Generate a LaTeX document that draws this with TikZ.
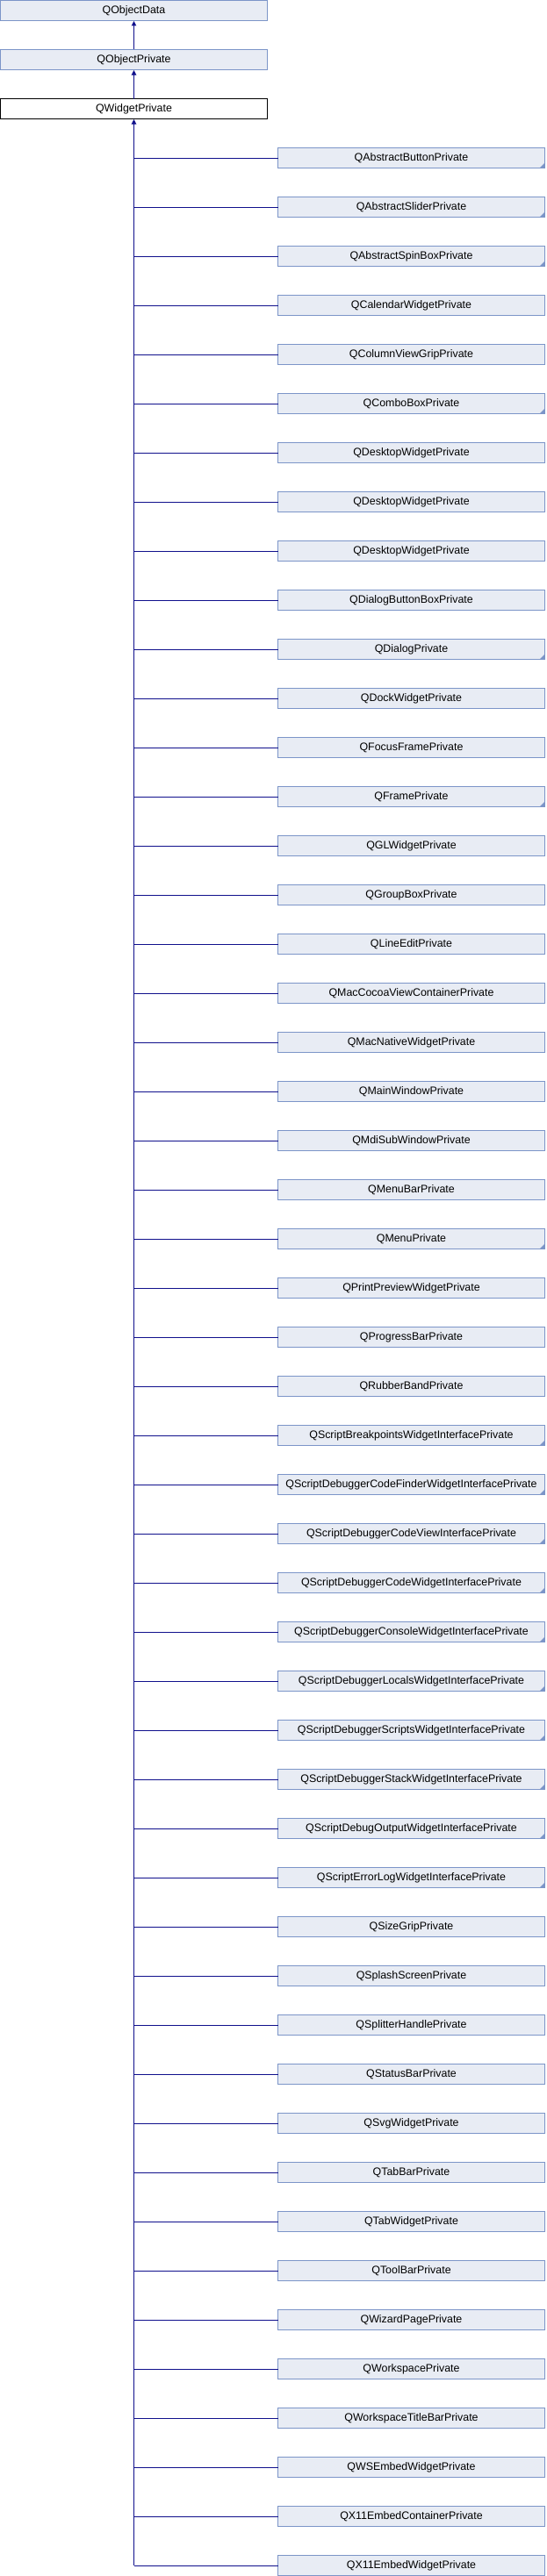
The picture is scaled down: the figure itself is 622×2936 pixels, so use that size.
\documentclass[tikz,border=0pt]{standalone}
\usepackage{fontspec}
\setmainfont{Liberation Sans}
\usetikzlibrary{arrows.meta}
\definecolor{boxfill}{RGB}{232,236,244}
\definecolor{boxline}{RGB}{124,149,200}
\definecolor{connavy}{RGB}{16,16,140}
\tikzset{
  base/.style={rectangle, minimum width=304pt, minimum height=23pt, inner sep=0pt, outer sep=0pt, line width=1pt, font=\fontsize{12.4pt}{14pt}\selectfont},
  parentbox/.style={base, draw=boxline, fill=boxfill},
  focusbox/.style={base, draw=black, fill=white},
  childbox/.style={base, draw=boxline, fill=boxfill},
  conn/.style={draw=connavy, line width=1pt},
  inherit/.style={conn, -{Triangle[width=5.5pt,length=5.5pt]}, shorten >=0.5pt},
  foldmark/.style={fill=boxline}
}
\begin{document}
\begin{tikzpicture}[x=1pt,y=-1pt]
\useasboundingbox (0,0) rectangle (622,2936);
\node[parentbox] (od) at (152.5,12) {QObjectData};
\node[parentbox] (op) at (152.5,68) {QObjectPrivate};
\node[focusbox] (wp) at (152.5,124) {QWidgetPrivate};
\draw[inherit] (op.north) -- (od.south);
\draw[inherit] (wp.north) -- (op.south);
\foreach \n/\lab [count=\i from 0] in {
c1/QAbstractButtonPrivate,
c2/QAbstractSliderPrivate,
c3/QAbstractSpinBoxPrivate,
c4/QCalendarWidgetPrivate,
c5/QColumnViewGripPrivate,
c6/QComboBoxPrivate,
c7/QDesktopWidgetPrivate,
c8/QDesktopWidgetPrivate,
c9/QDesktopWidgetPrivate,
c10/QDialogButtonBoxPrivate,
c11/QDialogPrivate,
c12/QDockWidgetPrivate,
c13/QFocusFramePrivate,
c14/QFramePrivate,
c15/QGLWidgetPrivate,
c16/QGroupBoxPrivate,
c17/QLineEditPrivate,
c18/QMacCocoaViewContainerPrivate,
c19/QMacNativeWidgetPrivate,
c20/QMainWindowPrivate,
c21/QMdiSubWindowPrivate,
c22/QMenuBarPrivate,
c23/QMenuPrivate,
c24/QPrintPreviewWidgetPrivate,
c25/QProgressBarPrivate,
c26/QRubberBandPrivate,
c27/QScriptBreakpointsWidgetInterfacePrivate,
c28/QScriptDebuggerCodeFinderWidgetInterfacePrivate,
c29/QScriptDebuggerCodeViewInterfacePrivate,
c30/QScriptDebuggerCodeWidgetInterfacePrivate,
c31/QScriptDebuggerConsoleWidgetInterfacePrivate,
c32/QScriptDebuggerLocalsWidgetInterfacePrivate,
c33/QScriptDebuggerScriptsWidgetInterfacePrivate,
c34/QScriptDebuggerStackWidgetInterfacePrivate,
c35/QScriptDebugOutputWidgetInterfacePrivate,
c36/QScriptErrorLogWidgetInterfacePrivate,
c37/QSizeGripPrivate,
c38/QSplashScreenPrivate,
c39/QSplitterHandlePrivate,
c40/QStatusBarPrivate,
c41/QSvgWidgetPrivate,
c42/QTabBarPrivate,
c43/QTabWidgetPrivate,
c44/QToolBarPrivate,
c45/QWizardPagePrivate,
c46/QWorkspacePrivate,
c47/QWorkspaceTitleBarPrivate,
c48/QWSEmbedWidgetPrivate,
c49/QX11EmbedContainerPrivate,
c50/QX11EmbedWidgetPrivate}{
  \node[childbox] (\n) at (468.5,{180+56*\i}) {\lab};
  \draw[conn] (\n.west) -- (\n.west -| wp.south);
}
\foreach \n in {c1,c2,c3,c6,c11,c14,c23,c27,c28,c29,c30,c31,c32,c33,c34,c35,c36}{
  \fill[foldmark] (\n.south east) -- ++(-6,0) -- ++(6,-6) -- cycle;
}
\draw[inherit] (c50.west -| wp.south) -- (wp.south);
\end{tikzpicture}
\end{document}
